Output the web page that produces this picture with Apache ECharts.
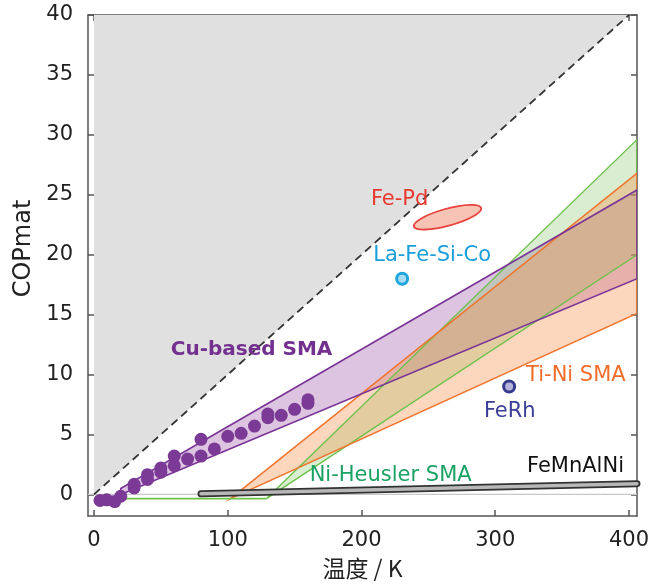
<!DOCTYPE html>
<html>
<head>
<meta charset="utf-8">
<script src="https://cdn.jsdelivr.net/npm/echarts@6/dist/echarts.min.js"></script>
<style>
  html, body { margin: 0; padding: 0; background: #fff; }
  #chart { width: 652px; height: 585px; }
</style>
</head>
<body>
<div id="chart"></div>
<script>
// 刻度
const xTicks = [0, 100, 200, 300, 400];
const yTicks = [0, 5, 10, 15, 20, 25, 30, 35, 40];

// Cu-based SMA 实测点 [T, COP]
const cuPoints = [
  [4.5, -0.5], [9.5, -0.45], [15.5, -0.6], [20, -0.15],
  [30, 0.55], [30, 0.85], [40, 1.25], [40, 1.65],
  [50, 1.85], [50, 2.2], [60, 2.4], [60, 3.2],
  [70, 2.95], [80, 3.2], [80, 4.6], [90, 3.8],
  [100, 4.85], [110, 5.1], [120, 5.7], [130, 6.4],
  [130, 6.7], [140, 6.6], [150, 7.1], [160, 7.6], [160, 7.9]
];

// 各材料区域（多边形顶点）
const cuBand = [[20, 0.5], [406, 25.4], [406, 18.0], [20, 0]];
const tiNiBand = [[102, -0.35], [406, 26.8], [406, 15.1]];
const niHeuslerBand = [[129, -0.35], [406, 29.6], [406, 20.0]];
const niHeuslerBase = [[15, -0.35], [129, -0.35]];
const feMnAlNi = [[80, 0.05], [406, 0.9]];
const carnotLine = [[0, 0], [400, 40]];
const carnotArea = [[0, 0], [0, 40], [400, 40]];
const zeroLine = [[-4.5, 0], [406, 0]];
const laFeSiCo = [[230.4, 18.0]];
const feRh = [[310.4, 9.0]];
const fePdAxis = [[239.2, 22.36], [289.5, 23.9]]; // 椭圆长轴两端

// 文字标注
const noteNames = ['Fe-Pd', 'La-Fe-Si-Co', 'Cu-based SMA', 'Ti-Ni SMA', 'FeRh', 'Ni-Heusler SMA', 'FeMnAlNi'];
const notePos = [[228.5, 24.6], [252.8, 19.9], [117.8, 12.1], [360.3, 9.9], [310.9, 6.9], [221.8, 1.6], [360, 2.3]];
const noteColors = ['#e8392f', '#1a9fdc', '#73308f', '#f26d2a', '#3a3e96', '#1aa264', '#111111'];

const FONT = 'DejaVu Sans';

// 填充和轮廓分开画，轮廓压在所有填充之上
function polygonSeries(points, fill, stroke, lw, z) {
  return {
    type: 'custom',
    coordinateSystem: 'cartesian2d',
    clip: true,
    silent: true,
    z: z,
    data: [[0, 0]],
    renderItem: (params, api) => ({
      type: 'polygon',
      shape: { points: points.map(p => api.coord(p)) },
      style: { fill: fill || 'none', stroke: stroke, lineWidth: lw }
    })
  };
}

function lineSeries(data, style, z) {
  return {
    type: 'line',
    data: data,
    symbol: 'none',
    silent: true,
    z: z,
    lineStyle: style
  };
}

const axisLineStyle = { color: '#555', width: 1.5 };

const chart = echarts.init(document.getElementById('chart'));

chart.setOption({
  animation: false,
  grid: { left: 88, right: 14.3, top: 15, bottom: 68 },
  xAxis: [
    {
      type: 'value', min: -4.5, max: 406, position: 'bottom',
      axisLine: { show: true, onZero: false, lineStyle: axisLineStyle },
      axisTick: { show: true, inside: true, length: 6, customValues: xTicks, lineStyle: axisLineStyle },
      axisLabel: { customValues: xTicks, fontSize: 21, color: '#222', margin: 14, fontFamily: FONT },
      splitLine: { show: false },
      name: '温度 / K', nameLocation: 'middle', nameGap: 41,
      nameTextStyle: { fontSize: 23, color: '#222', fontFamily: 'Noto Sans CJK SC' }
    },
    {
      type: 'value', min: -4.5, max: 406, position: 'top',
      axisLine: { show: true, onZero: false, lineStyle: axisLineStyle },
      axisTick: { show: true, inside: true, length: 6, customValues: xTicks, lineStyle: axisLineStyle },
      axisLabel: { show: false },
      splitLine: { show: false }
    }
  ],
  yAxis: [
    {
      type: 'value', min: -1.8, max: 40, position: 'left',
      axisLine: { show: true, onZero: false, lineStyle: axisLineStyle },
      axisTick: { show: true, inside: true, length: 6, customValues: yTicks, lineStyle: axisLineStyle },
      axisLabel: { customValues: yTicks, fontSize: 21, color: '#222', margin: 15, fontFamily: FONT },
      splitLine: { show: false },
      name: 'COPmat', nameLocation: 'middle', nameGap: 52,
      nameTextStyle: { fontSize: 24, color: '#222', fontFamily: FONT, padding: [0, 0, 0, 34] }
    },
    {
      type: 'value', min: -1.8, max: 40, position: 'right',
      axisLine: { show: true, onZero: false, lineStyle: axisLineStyle },
      axisTick: { show: true, inside: true, length: 6, customValues: yTicks, lineStyle: axisLineStyle },
      axisLabel: { show: false },
      splitLine: { show: false }
    }
  ],
  series: [
    polygonSeries(carnotArea, '#e0e0e0', null, 0, 1),
    lineSeries(zeroLine, { color: '#c8c8c8', width: 1.2 }, 1),
    lineSeries(carnotLine, { color: '#333', width: 1.8, type: [8, 5] }, 2),
    // 填充
    polygonSeries(cuBand, 'rgba(150,75,165,0.32)', null, 0, 3),
    polygonSeries(niHeuslerBand, 'rgba(130,200,100,0.3)', null, 0, 4),
    polygonSeries(tiNiBand, 'rgba(245,140,70,0.35)', null, 0, 5),
    // 轮廓
    polygonSeries(niHeuslerBand, null, '#6cc24a', 1.4, 6),
    lineSeries(niHeuslerBase, { color: '#6cc24a', width: 1.6 }, 6),
    polygonSeries(tiNiBand, null, '#f0762f', 1.6, 6),
    polygonSeries(cuBand, null, '#7a3597', 1.6, 6),
    lineSeries(feMnAlNi, { color: '#333', width: 7, cap: 'round' }, 7),
    lineSeries(feMnAlNi, { color: '#b8b8b8', width: 3.5, cap: 'round' }, 7),
    {
      type: 'custom',
      coordinateSystem: 'cartesian2d',
      silent: true,
      z: 8,
      data: [[0, 0]],
      renderItem: (params, api) => {
        const a = api.coord(fePdAxis[0]);
        const b = api.coord(fePdAxis[1]);
        const dx = b[0] - a[0], dy = b[1] - a[1];
        return {
          type: 'ellipse',
          x: (a[0] + b[0]) / 2,
          y: (a[1] + b[1]) / 2,
          rotation: -Math.atan2(dy, dx),
          shape: { cx: 0, cy: 0, rx: Math.hypot(dx, dy) / 2, ry: 8.5 },
          style: { fill: '#f6c3b4', stroke: '#e8413c', lineWidth: 1.8 }
        };
      }
    },
    {
      type: 'scatter', data: cuPoints, symbolSize: 13, z: 10, silent: true,
      itemStyle: { color: '#7b3a96', opacity: 1 }
    },
    {
      type: 'scatter', data: laFeSiCo, symbolSize: 11, z: 10, silent: true,
      itemStyle: { color: '#a9dcf3', borderColor: '#1fa6de', borderWidth: 3, opacity: 1 }
    },
    {
      type: 'scatter', data: feRh, symbolSize: 11, z: 10, silent: true,
      itemStyle: { color: '#b4b4dc', borderColor: '#363a8c', borderWidth: 3, opacity: 1 }
    },
    {
      type: 'custom',
      coordinateSystem: 'cartesian2d',
      silent: true,
      z: 11,
      data: notePos,
      renderItem: (params, api) => {
        const i = params.dataIndex;
        const p = api.coord([api.value(0), api.value(1)]);
        const bold = noteNames[i] === 'Cu-based SMA';
        return {
          type: 'text',
          x: p[0],
          y: p[1],
          style: {
            text: noteNames[i],
            fill: noteColors[i],
            align: 'center',
            verticalAlign: 'middle',
            fontFamily: FONT,
            fontSize: bold ? 20 : 21,
            fontWeight: bold ? 'bold' : 'normal'
          }
        };
      }
    }
  ]
});
</script>
</body>
</html>
